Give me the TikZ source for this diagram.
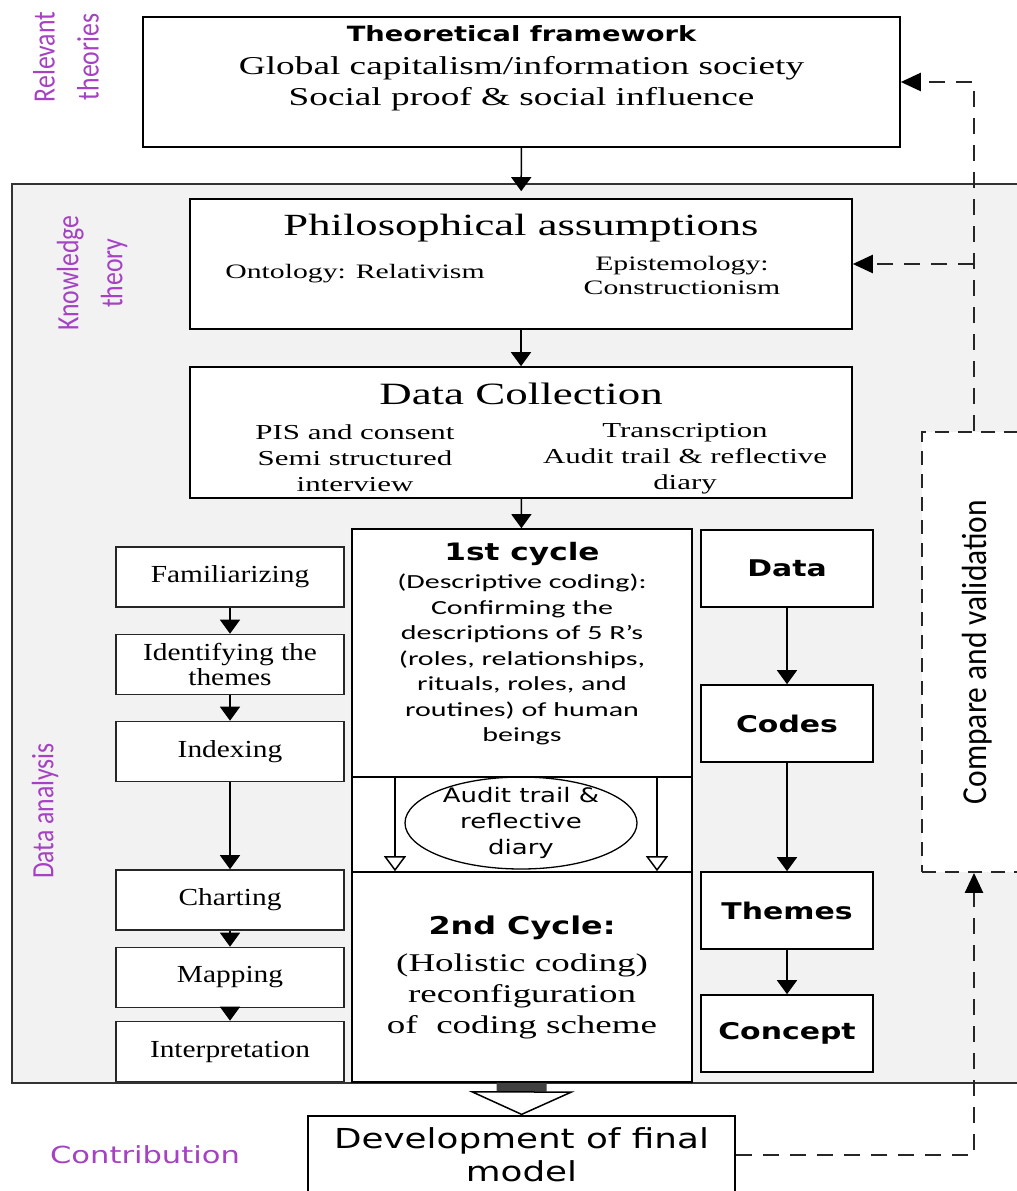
\documentclass[tikz,border=0pt]{standalone}
\usepackage{fontspec}
\usepackage{tikz}
\usetikzlibrary{arrows.meta,positioning,shapes.geometric}

\newfontfamily\dvs[FakeStretch=1.3]{DejaVu Sans}
\newfontfamily\wserif[FakeStretch=1.45]{Liberation Serif}
\newfontfamily\mserif[FakeStretch=1.2]{Liberation Serif}
\newfontfamily\cbody[FakeStretch=1.5]{Carlito}
\newfontfamily\cvfont[FakeStretch=0.9]{Carlito}
\newfontfamily\lblfont[FakeStretch=0.83]{Carlito}
\newcommand\fsz[2]{\fontsize{#1}{#2}\selectfont}

\definecolor{lblpurple}{RGB}{165,65,195}
\definecolor{panelgray}{RGB}{242,242,242}

\tikzset{
  box/.style={draw, line width=1.6pt, fill=white, inner sep=0pt},
  lbox/.style={box, draw=black!85, minimum width=228pt, minimum height=60pt, align=center, font=\mserif\fsz{24.5}{25}},
  rbox/.style={box, minimum width=172pt, minimum height=77pt, font=\dvs\bfseries\fsz{23}{28}},
  arr/.style={line width=1.5pt, -{Triangle[width=20pt,length=14pt]}},
  hollow/.style={line width=1.5pt, -{Triangle[open,width=22pt,length=15pt]}},
  block/.style={line width=50pt, draw=black!75, -{Triangle[open,fill=white,color=black,width=106pt,length=24pt,line width=1.5pt]}},
  dconn/.style={line width=2.4pt, draw=black!85, dash pattern=on 16pt off 11pt, -{Triangle[color=black,width=18pt,length=20pt]}},
  lbl/.style={text=lblpurple, inner sep=0pt, align=center, font=\lblfont\fsz{31}{44}},
}

\begin{document}
\begin{tikzpicture}[x=1pt,y=-1pt]
\useasboundingbox (0,0) rectangle (1017,1191);

% grey panel behind knowledge theory and data analysis
\node[draw=black!80, line width=1.5pt, fill=panelgray, minimum width=1018pt, minimum height=899pt, inner sep=0pt] (panel) at (521,633.5) {};

% side labels
\node[lbl, rotate=90] (relth) at (66,57) {Relevant\\theories};
\node[lbl, rotate=90] (knowth) at (92,273) {Knowledge\\theory};
\node[lbl, rotate=90] (anlys) at (45,811) {Data analysis};
\node[text=lblpurple, inner sep=0pt, font=\dvs\fsz{23.5}{28}] (contrib) at (145,1155) {Contribution};

% theoretical framework
\node[box, minimum width=757pt, minimum height=130pt] (theo) at (521.5,82) {};
\node[inner sep=0pt, align=center, font=\wserif\fsz{25.7}{31}] (theo-txt) at (521.5,68)
  {{\dvs\bfseries\fsz{21}{31}Theoretical framework}\\[2pt] Global capitalism/information society\\ Social proof \& social influence};

% philosophical assumptions
\node[box, minimum width=662pt, minimum height=130pt] (phil) at (521,264) {};
\node[inner sep=0pt, font=\wserif\fsz{30.8}{36}] (phil-ttl) at (521,228) {Philosophical assumptions};
\node[inner sep=0pt, font=\wserif\fsz{20.5}{24}] (ont) at (355,274) {Ontology: Relativism};
\node[inner sep=0pt, align=center, font=\wserif\fsz{20.5}{24}] (epi) at (682,275) {Epistemology:\\Constructionism};

% data collection
\node[box, minimum width=662pt, minimum height=131pt] (dc) at (521,432.5) {};
\node[inner sep=0pt, font=\wserif\fsz{31}{36}] (dc-ttl) at (521,393.5) {Data Collection};
\node[inner sep=0pt, align=center, font=\wserif\fsz{21.3}{26}] (dc-l) at (355,458) {PIS and consent\\Semi structured\\interview};
\node[inner sep=0pt, align=center, font=\wserif\fsz{21.3}{26}] (dc-r) at (685,459) {Transcription\\Audit trail \& reflective\\diary};

% coding cycles
\node[box, minimum width=340pt, minimum height=95pt] (mid) at (522,824.5) {};
\node[box, minimum width=340pt, minimum height=248pt] (c1) at (522,653) {};
\node[below=14pt of c1.north, inner sep=0pt, align=center, font=\cbody\fsz{20}{25.5}] (c1-txt)
  {{\dvs\bfseries\fsz{24}{25.5}1st cycle}\\[2.5pt] (Descriptive coding):\\ Confirming the\\ descriptions of 5 R’s\\ (roles, relationships,\\ rituals, roles, and\\ routines) of human\\ beings};
\node[draw, line width=1.3pt, ellipse, minimum width=232pt, minimum height=92pt, inner sep=0pt] (aud) at (521,823) {};
\node[inner sep=0pt, align=center, font=\dvs\fsz{20}{26}] (aud-txt) at (aud.center) {Audit trail \&\\reflective\\diary};
\node[box, minimum width=340pt, minimum height=210pt, align=center, font=\wserif\fsz{25.5}{31}] (c2) at (522,977)
  {{\dvs\bfseries\fsz{24.5}{31}2nd Cycle:}\\[6pt] (Holistic coding)\\ reconfiguration\\ of~ coding scheme};
\draw[hollow] ([xshift=-127pt]c1.south) -- ([xshift=-127pt]c2.north);
\draw[hollow] ([xshift=135pt]c1.south) -- ([xshift=135pt]c2.north);

% framework analysis steps
\foreach \nm/\y/\txt in {fam/577/Familiarizing, idt/664.5/{Identifying the\\themes}, idx/751.5/Indexing, cha/900/Charting, map/977.5/Mapping, itp/1051.5/Interpretation}
  \node[lbox] (\nm) at (230,\y) {\txt};
\foreach \a/\b in {fam/idt, idt/idx, idx/cha, cha/map, map/itp}
  \draw[arr] (\a) -- (\b);

% data to concept
\foreach \nm/\y/\txt in {data/568.5/Data, codes/723.5/Codes, themes/910.5/Themes, concept/1033.5/Concept}
  \node[rbox] (\nm) at (787,\y) {\txt};
\foreach \a/\b in {data/codes, codes/themes, themes/concept}
  \draw[arr] (\a) -- (\b);

% compare and validation
\node[draw=black!85, line width=1.8pt, dash pattern=on 14pt off 9pt, fill=white, minimum width=104pt, minimum height=440pt, inner sep=0pt] (cv) at (974,652) {};
\node[rotate=90, inner sep=0pt, font=\cvfont\fsz{35}{40}] (cv-txt) at (977,652) {Compare and validation};

% final model
\node[box, minimum width=427pt, minimum height=78pt, align=center, font=\dvs\fsz{27.5}{33}] (dev) at (521.5,1155) {Development of final\\model};

% main flow
\draw[arr, shorten >=7pt] (theo) -- (phil);
\draw[arr] (phil) -- (dc);
\draw[arr] (dc) -- (c1);
\draw[block] (c2) -- (dev);

% validation loop
\draw[dconn] (cv.north) |- (theo.east);
\draw[dconn] (cv.north |- phil.east) -- (phil.east);
\draw[dconn] (dev.east) -| (cv.south);
\end{tikzpicture}
\end{document}
